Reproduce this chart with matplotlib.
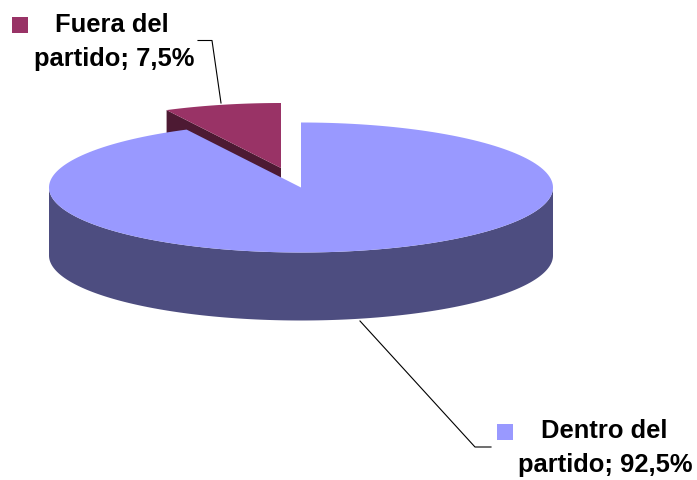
import numpy as np
import matplotlib
matplotlib.use('Agg')
import matplotlib.pyplot as plt

labels = ['Dentro del\npartido; 92,5%', 'Fuera del\npartido; 7,5%']
values = [92.5, 7.5]
top_colors = ['#9999ff', '#993366']
side_colors = ['#4d4d80', '#4d1a33']

# ellipse of the pie in pixels
rx, ry = 252, 65
depth = 68
centers = [(301, 188.5), (281, 169)]

plt.rcParams['font.family'] = ['Liberation Sans', 'DejaVu Sans']
fig = plt.figure(figsize=(6.97, 4.81), dpi=100)
ax = fig.add_axes([0, 0, 1, 1])
ax.set_xlim(0, 697)
ax.set_ylim(481, 0)
ax.axis('off')


def ell(c, t):
    return c[0] + rx*np.cos(t), c[1] - ry*np.sin(t)


def slice_poly(c, t0, t1):
    t = np.linspace(t0, t1, 200)
    x, y = ell(c, t)
    return np.r_[c[0], x], np.r_[c[1], y]


total = sum(values)
start = np.pi/2
big_end = start - 2*np.pi*values[0]/total
small_end = big_end - 2*np.pi*values[1]/total

# small slice goes behind the big one
c = centers[1]
t0, t1 = big_end, small_end
ax.fill(*slice_poly(c, t0, t1), color=top_colors[1], lw=0, zorder=2)
x0, y0 = ell(c, t0)
ax.fill([c[0], x0, x0, c[0]], [c[1], y0, y0+depth, c[1]+depth],
        color=side_colors[1], lw=0, zorder=1)

# big slice, outer wall on the front half only
c = centers[0]
t = np.linspace(np.pi, 2*np.pi, 200)
x, y = ell(c, t)
ax.fill(np.r_[x, x[::-1]], np.r_[y, y[::-1]+depth], color=side_colors[0], lw=0, zorder=3)
ax.fill(*slice_poly(c, start, big_end), color=top_colors[0], lw=0, zorder=4)

# leader lines
ax.plot([221, 212, 198], [104, 41.5, 41.5], color='black', lw=0.8, zorder=5)
ax.plot([360, 475, 491], [322, 448, 448], color='black', lw=0.8, zorder=5)

# legend keys + labels
ax.scatter([20, 505], [26, 433], marker='s', s=133, lw=0,
           color=[top_colors[1], top_colors[0]], zorder=6)
ax.text(112, 25, labels[1].split('\n')[0], ha='center', va='center',
        fontsize=18.4, fontweight='bold')
ax.text(114, 59, labels[1].split('\n')[1], ha='center', va='center',
        fontsize=18.4, fontweight='bold')
ax.text(604, 431, labels[0].split('\n')[0], ha='center', va='center',
        fontsize=18.4, fontweight='bold')
ax.text(605.5, 465, labels[0].split('\n')[1], ha='center', va='center',
        fontsize=18.4, fontweight='bold')

fig.savefig('out.png', dpi=100)
